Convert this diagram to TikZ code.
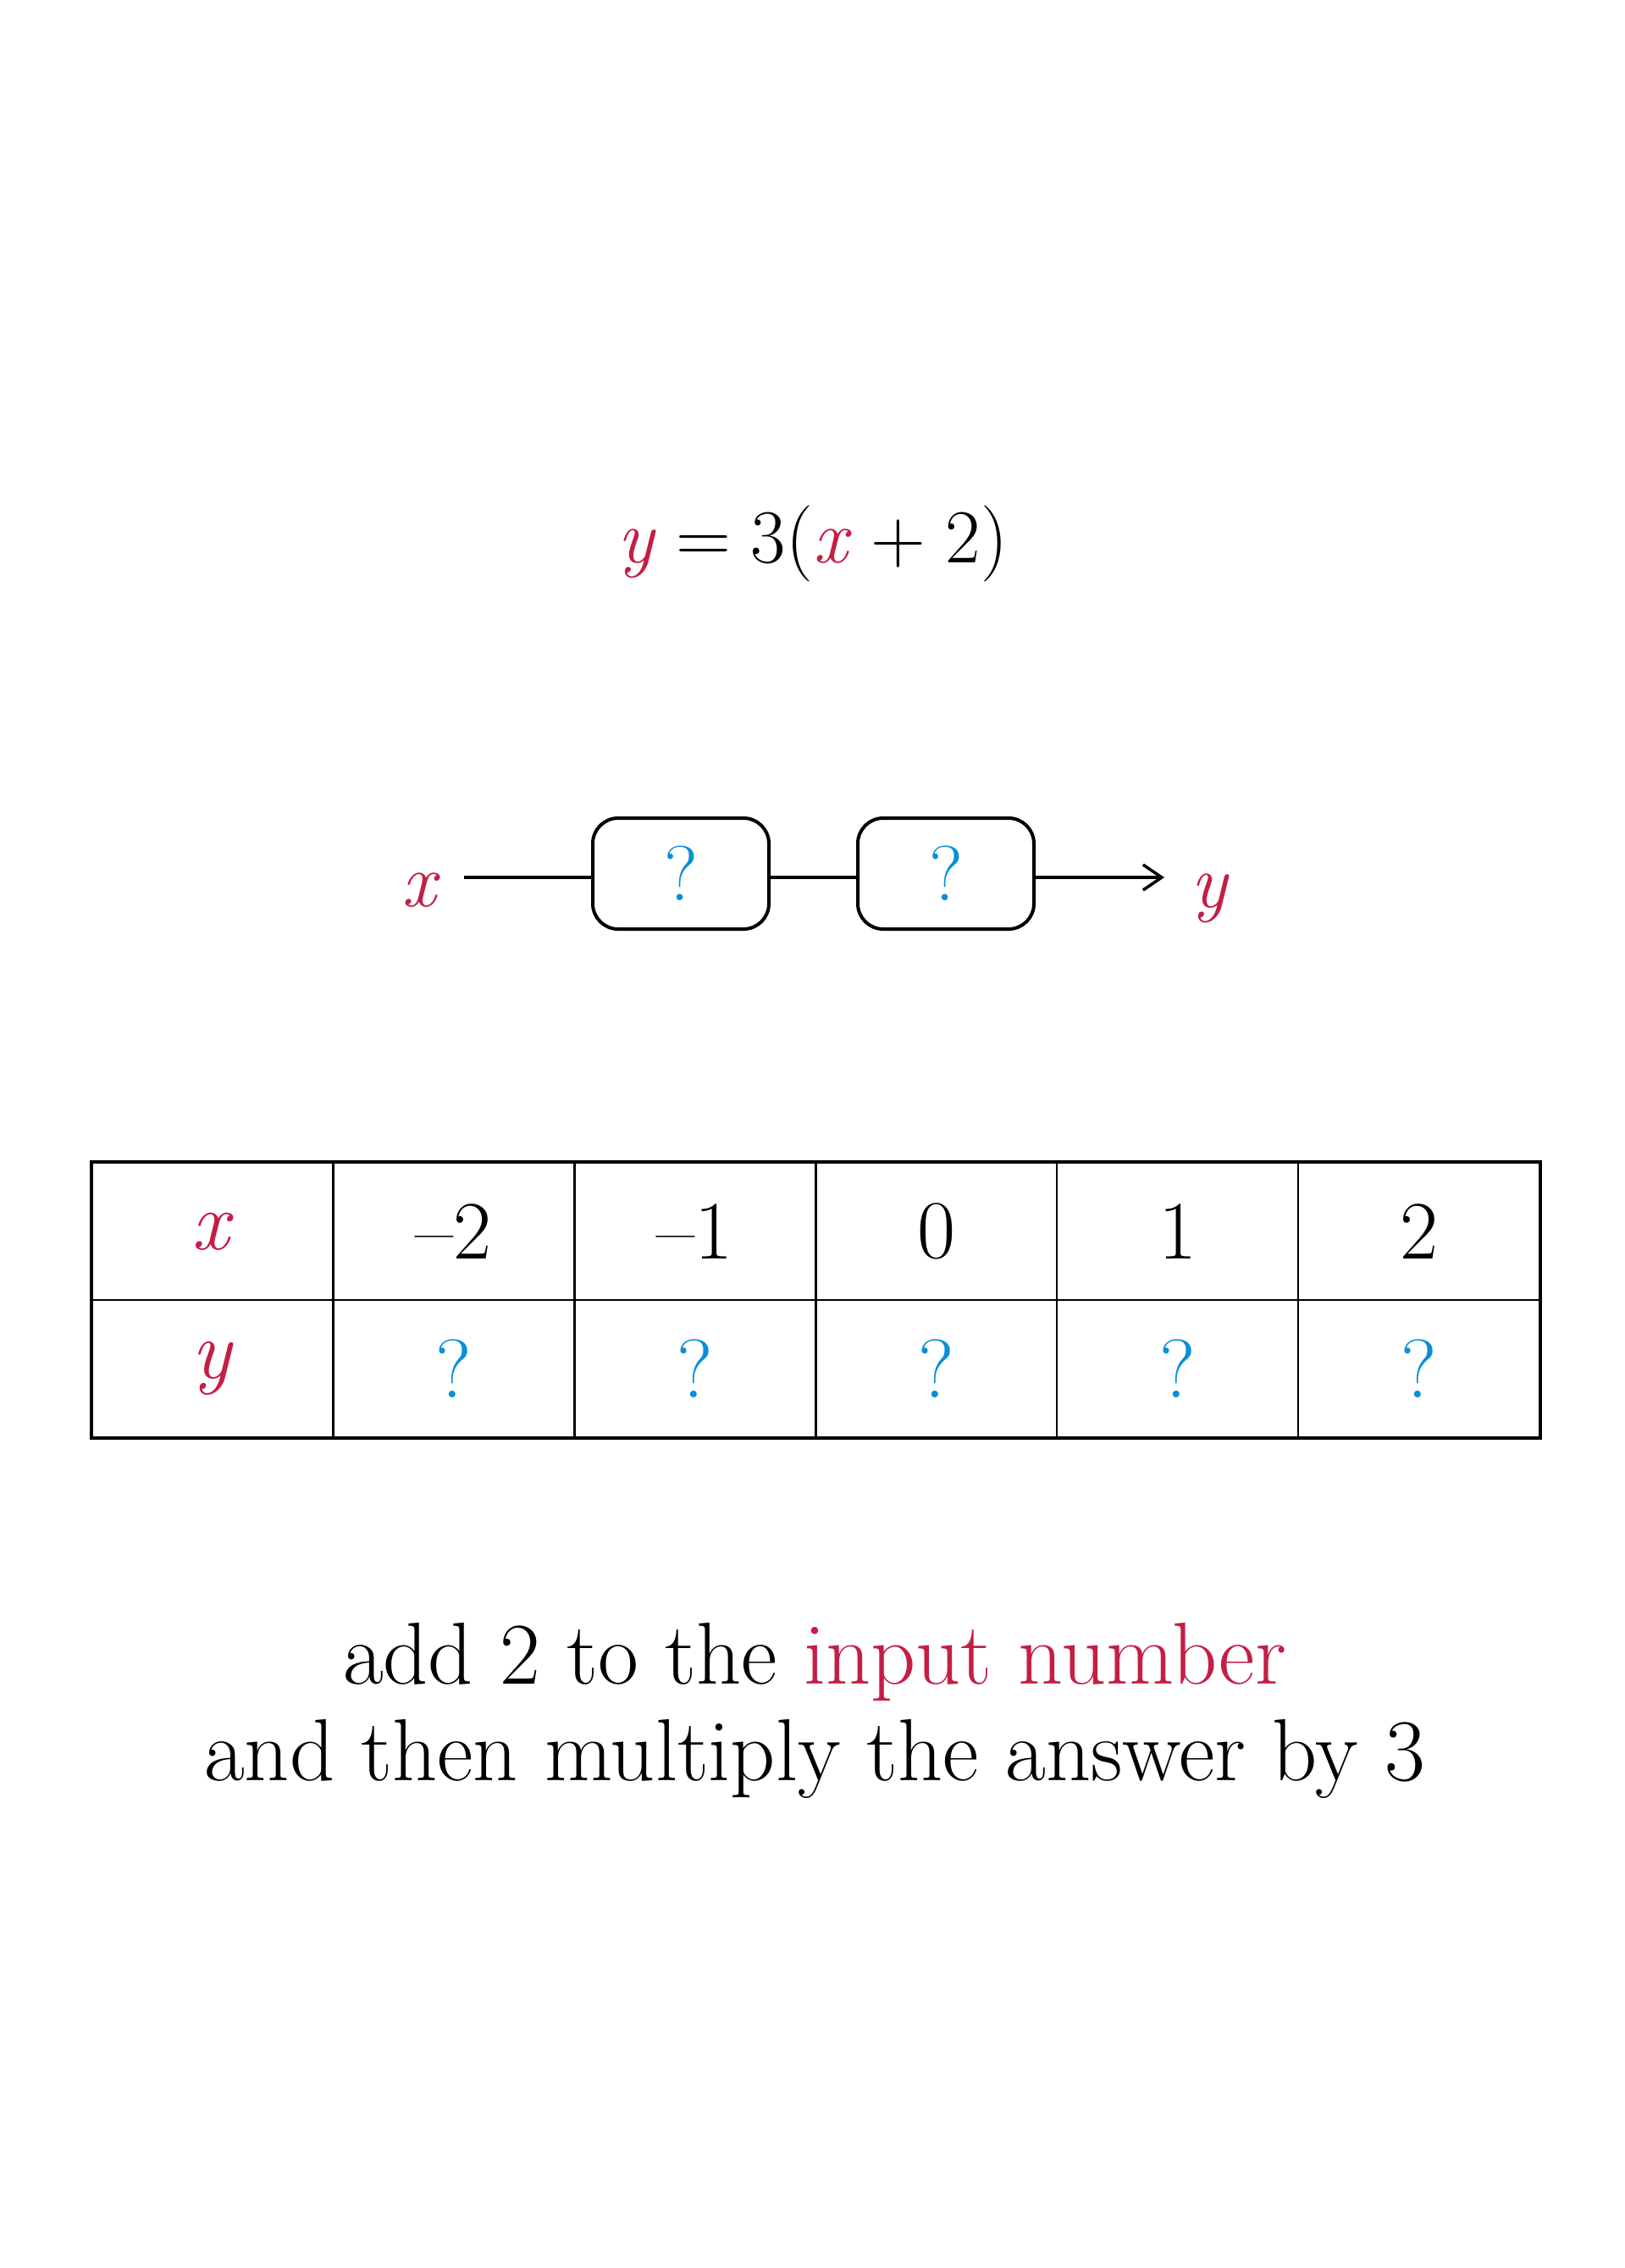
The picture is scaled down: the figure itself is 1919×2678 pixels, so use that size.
\documentclass[tikz,border=0pt]{standalone}
\usetikzlibrary{arrows.meta}
\definecolor{cred}{HTML}{C41E45}
\definecolor{cblue}{HTML}{0A8FD6}
\begin{document}
\begin{tikzpicture}[x=1pt,y=-1pt,
  txt/.style={inner sep=0pt, font=\fontsize{90}{108}\selectfont},
  bigtxt/.style={inner sep=0pt, font=\fontsize{104}{120}\selectfont},
  qbox/.style={draw, line width=4pt, rounded corners=30pt, minimum width=208pt, minimum height=131pt, inner sep=0pt, text=cblue, font=\fontsize{92}{108}\selectfont},
  conn/.style={line width=3.5pt},
  cell/.style={draw, line width=2.5pt, minimum width=284.9pt, minimum height=162pt, inner sep=0pt, font=\fontsize{98}{110}\selectfont},
  outer/.style={line width=3.5pt}]
\useasboundingbox (0,0) rectangle (1919,2678);
% equation
\node[txt, anchor=base] (eq) at (960,664) {\textcolor{cred}{\textit{y}}\hspace{0.26em}=\hspace{0.26em}3(\textcolor{cred}{\textit{x}}\hspace{0.26em}+\hspace{0.26em}2)};
% flow
\node[txt, text=cred, anchor=base] (xin) at (497,1070) {\textit{x}};
\node[qbox] (b1) at (804,1031.5) {?};
\node[qbox] (b2) at (1117,1031.5) {?};
\node[txt, text=cred, anchor=base] (yout) at (1429,1071) {\textit{y}};
\coordinate (ls) at (548,1036);
\coordinate (ae) at (1375,1036);
\draw[conn] (ls) -- (b1.west |- ls);
\draw[conn] (b1.east |- ls) -- (b2.west |- ls);
\draw[conn,-{Straight Barb[length=22pt,width=30pt,line width=3.5pt]}] (b2.east |- ls) -- (ae);
% table
\foreach \t [count=\i from 0] in {\textcolor{cred}{\textit{x}},--2,--1,0,1,2}
  \node[cell] (r1c\i) at ({108.6+284.9*(\i+0.5)},1454) {\t};
\foreach \t [count=\i from 0] in {\textcolor{cred}{\textit{y}},\textcolor{cblue}{?},\textcolor{cblue}{?},\textcolor{cblue}{?},\textcolor{cblue}{?},\textcolor{cblue}{?}}
  \node[cell] (r2c\i) at ({108.6+284.9*(\i+0.5)},1616) {\t};
\draw[outer] (r1c0.north west) rectangle (r2c5.south east);
% bottom text
\node[bigtxt, anchor=base] (l1) at (962,1988) {add 2 to the \textcolor{cred}{input number}};
\node[bigtxt, anchor=base] (l2) at (962,2102) {and then multiply the answer by 3};
\end{tikzpicture}
\end{document}
